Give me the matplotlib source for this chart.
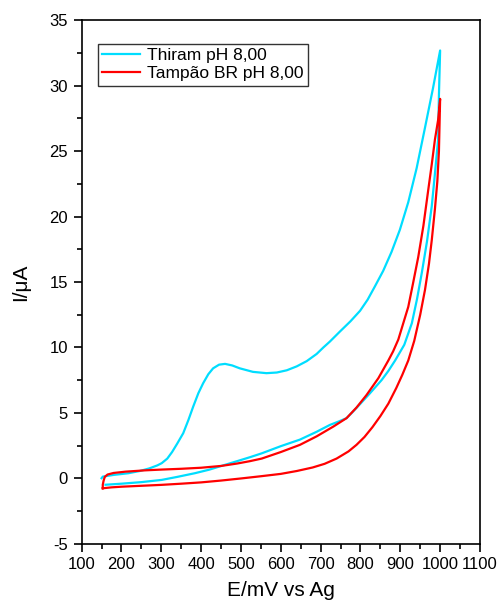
import matplotlib
matplotlib.use("Agg")
import matplotlib.pyplot as plt
from matplotlib.ticker import MultipleLocator

plt.rcParams['font.family'] = ['Liberation Sans', 'DejaVu Sans']
plt.rcParams['axes.unicode_minus'] = False

# Thiram pH 8,00 : forward scan then return scan (E in mV, I in uA)
thiram_E = [150, 153, 180, 217, 246, 270, 290, 301, 315, 327, 340, 355, 368, 380,
            393, 405, 418, 430, 445, 460, 478, 497, 530, 564, 590, 615, 640, 665,
            690, 707, 723, 748, 775, 799, 818, 836, 857, 878, 899, 920, 941, 962,
            982, 1000,
            997, 995, 987, 979, 967, 954, 942, 929, 910, 887, 870, 853, 824, 800,
            780, 765, 745, 723, 690, 648, 600, 552, 522, 490, 451, 420, 384, 340,
            301, 250, 200, 160]
thiram_I = [0.0, 0.12, 0.25, 0.38, 0.55, 0.75, 0.98, 1.15, 1.5, 2.0, 2.65, 3.44, 4.45, 5.47,
            6.5, 7.26, 7.95, 8.4, 8.68, 8.74, 8.62, 8.4, 8.13, 8.03, 8.08, 8.25, 8.55, 8.95,
            9.5, 10.0, 10.44, 11.2, 12.0, 12.8, 13.65, 14.65, 15.85, 17.3, 19.0, 21.1, 23.7, 26.8,
            29.8, 32.7,
            29.3, 25.9, 23.3, 20.8, 18.1, 15.7, 13.7, 11.85, 10.2, 9.0, 8.2, 7.5, 6.5, 5.7,
            5.05, 4.59, 4.33, 4.07, 3.55, 2.95, 2.45, 1.9, 1.6, 1.3, 0.94, 0.65, 0.38, 0.1,
            -0.13, -0.3, -0.42, -0.5]

# Tampao BR pH 8,00
buffer_E = [153, 175, 200, 250, 300, 350, 400, 450, 500, 550, 600, 640, 680, 710,
            740, 770, 790, 810, 830, 850, 870, 890, 905, 920, 935, 950, 962, 972,
            979, 987, 993, 997, 1000,
            995, 987, 979, 970, 958, 945, 932, 920, 907, 895, 882, 870, 845, 815,
            790, 765, 732, 690, 648, 600, 552, 522, 490, 451, 400, 350, 301, 259,
            210, 180, 165, 158, 155, 153, 153]
buffer_I = [-0.77, -0.7, -0.65, -0.58, -0.51, -0.42, -0.32, -0.18, -0.02, 0.15, 0.33, 0.55, 0.82, 1.1,
            1.5, 2.05, 2.55, 3.15, 3.9, 4.75, 5.7, 6.9, 7.9, 9.0, 10.5, 12.5, 14.4, 16.4,
            18.2, 20.6, 22.7, 25.0, 29.0,
            27.4, 25.9, 24.0, 22.0, 19.3, 16.9, 14.9, 13.1, 11.8, 10.6, 9.7, 9.0, 7.65, 6.35,
            5.4, 4.59, 3.95, 3.2, 2.55, 2.0, 1.5, 1.3, 1.12, 0.94, 0.8, 0.72, 0.66, 0.6,
            0.5, 0.4, 0.28, 0.1, -0.2, -0.5, -0.77]

labels = ['Thiram pH 8,00', 'Tampão BR pH 8,00']

fig = plt.figure(figsize=(5.01, 6.0), dpi=100)
ax = fig.add_axes([0.163, 0.094, 0.795, 0.872])

ax.plot(thiram_E, thiram_I, color='#00DDFF', lw=1.6, label=labels[0])
ax.plot(buffer_E, buffer_I, color='#FF0000', lw=1.6, label=labels[1])

ax.set_xlim(100, 1100)
ax.set_ylim(-5, 35)
ax.xaxis.set_major_locator(MultipleLocator(100))
ax.xaxis.set_minor_locator(MultipleLocator(50))
ax.yaxis.set_major_locator(MultipleLocator(5))
ax.yaxis.set_minor_locator(MultipleLocator(2.5))
ax.tick_params(which='both', direction='out', top=False, right=False,
               width=1.2, labelsize=12, pad=4)
ax.tick_params(which='major', length=6)
ax.tick_params(which='minor', length=3.5)
for s in ax.spines.values():
    s.set_linewidth(1.2)

ax.set_xlabel('E/mV vs Ag', fontsize=15, labelpad=6)
ax.set_ylabel('I/μA', fontsize=15, labelpad=14)

leg = ax.legend(loc='upper left', bbox_to_anchor=(0.04, 0.955), borderaxespad=0,
                fontsize=12.5, frameon=True, fancybox=False, edgecolor='black',
                handlelength=2.2, handletextpad=0.4, borderpad=0.25,
                labelspacing=0.15)
leg.get_frame().set_linewidth(1.0)

fig.savefig('out.png', dpi=100)
